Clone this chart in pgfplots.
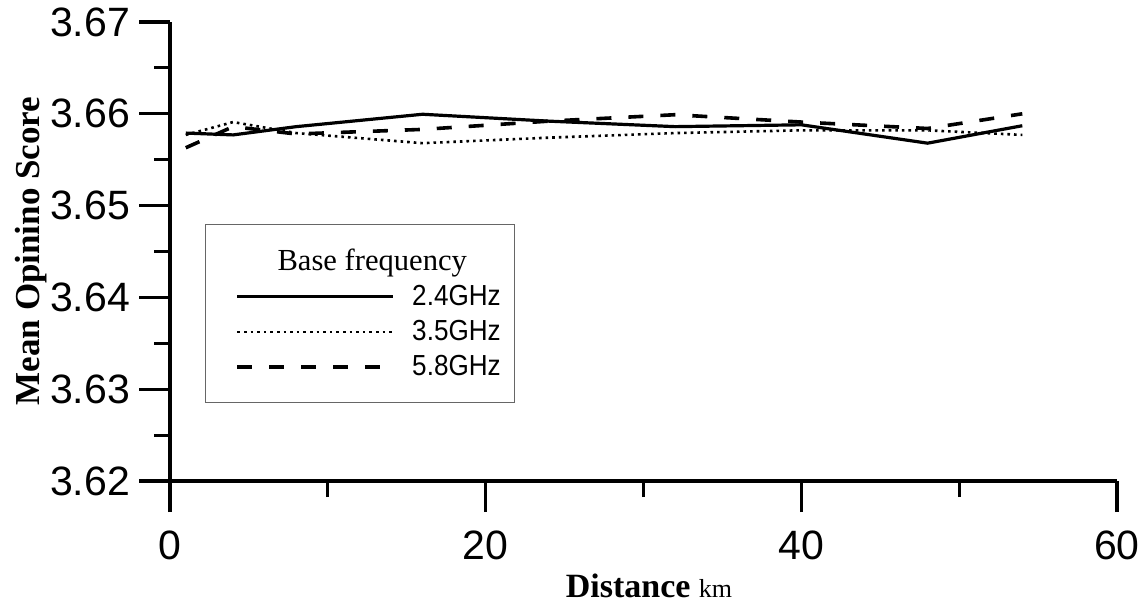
\documentclass[border=0pt]{standalone}
\usepackage{fontspec}
\setmainfont{Liberation Serif}
\setsansfont{Liberation Sans}
\newfontfamily\legsans[FakeStretch=0.9]{Liberation Sans}
\usepackage{pgfplots}
\pgfplotsset{compat=1.18}
\begin{document}
\begin{tikzpicture}
\useasboundingbox (-85pt,-62pt) rectangle (486.5pt,240.5pt);
\begin{axis}[
  anchor=south west, at={(0,0)},
  scale only axis, width=473.5pt, height=229.5pt,
  xmin=0, xmax=60, ymin=3.62, ymax=3.67,
  axis x line*=bottom, axis y line*=left,
  axis line style={-, line width=2pt},
  xtick={0,20,40,60}, minor xtick={10,30,50},
  ytick={3.62,3.63,3.64,3.65,3.66,3.67},
  minor ytick={3.625,3.635,3.645,3.655,3.665},
  tick align=outside,
  major tick length=15.5pt, minor tick length=8pt,
  every tick/.style={black, line width=1.6pt},
  tick label style={font=\sffamily\fontsize{20.5}{24}\selectfont},
  yticklabel style={xshift=-1pt},
  xticklabel style={yshift=-6pt},
  /pgf/number format/assume math mode=true,
  yticklabel style={/pgf/number format/.cd, fixed, fixed zerofill, precision=2},
  xticklabel style={/pgf/number format/.cd, fixed},
  scaled y ticks=false,
  clip=false,
  legend style={at={(axis description cs:0.037,0.56)}, anchor=north west,
    draw=black!60, line width=0.6pt, inner xsep=5pt, inner ysep=10pt,
    font=\legsans\fontsize{14.5}{15}\selectfont, row sep=2pt,
    cells={anchor=west},
    /tikz/every odd column/.append style={column sep=6.5pt}},
  legend image code/.code={\path (0pt,0pt); \draw[#1] (10pt,0pt) -- (88pt,0pt);},
]
\addlegendimage{empty legend}
\addlegendentry{\makebox[0pt][c]{\hspace{-40pt}\rmfamily\fontsize{15.3}{18}\selectfont Base frequency}}
\addplot[black, line width=1.6pt] coordinates {
 (1,3.6579) (4,3.6577) (8,3.6586) (16,3.65995) (24,3.6592) (32,3.6586) (40,3.6588) (48,3.6568) (54,3.6587)};
\addlegendentry{2.4GHz}
\addplot[black, line width=1.3pt, dash pattern=on 1.3pt off 2pt] coordinates {
 (1,3.6577) (4,3.6591) (8,3.6579) (16,3.6568) (24,3.6574) (32,3.6579) (40,3.6582) (48,3.6582) (54,3.6577)};
\addlegendentry{3.5GHz}
\addplot[black, line width=1.8pt, dash pattern=on 7.5pt off 8.5pt] coordinates {
 (1,3.6563) (4,3.6586) (8,3.6578) (16,3.6583) (24,3.6592) (32,3.6599) (40,3.6591) (48,3.6584) (54,3.6600)};
\addlegendentry{5.8GHz}
\end{axis}
\node[rotate=90, anchor=base, font=\bfseries\fontsize{17.5}{20}\selectfont] at (-65pt,115pt) {Mean Opinino Score};
\node[anchor=base, font=\fontsize{17}{20}\selectfont] at (239.5pt,-58pt) {\textbf{Distance} {\fontsize{13}{15}\selectfont km}};
\end{tikzpicture}
\end{document}
